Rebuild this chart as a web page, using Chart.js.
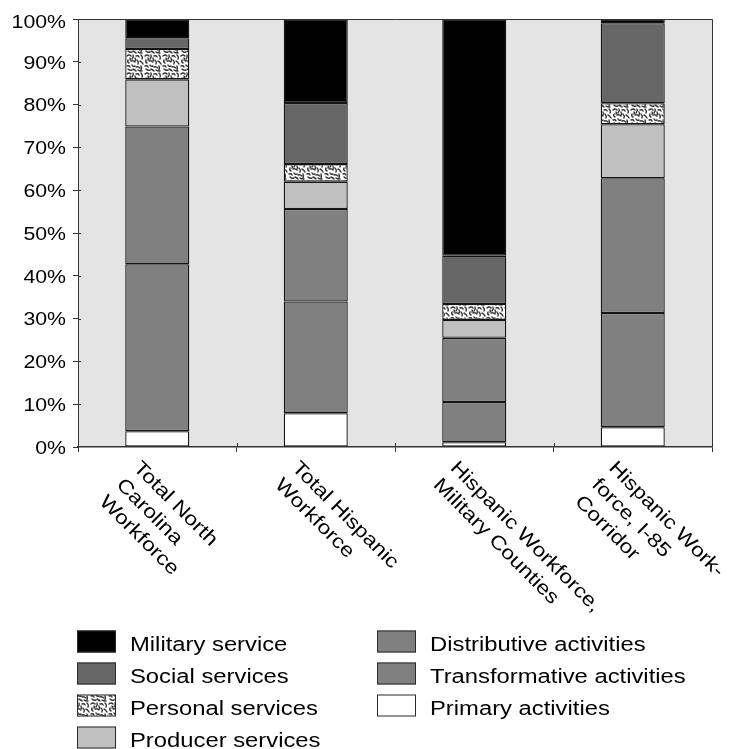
<!DOCTYPE html>
<html><head><meta charset="utf-8">
<script src="https://cdn.jsdelivr.net/npm/chart.js@4.4.1/dist/chart.umd.min.js"></script>
<style>html,body{margin:0;padding:0;background:#fff}#wrap{width:739px;height:749px;position:relative}</style>
</head><body><div id="wrap"><canvas id="c"></canvas></div>
<script>
// ---- data ----
const categoryLines = [
  ["Total North", "Carolina", "Workforce"],
  ["Total Hispanic", "Workforce"],
  ["Hispanic Workforce,", "Military Counties"],
  ["Hispanic Work-", "force, I-85", "Corridor"]
];
const categories = categoryLines.map(l => l.join(" "));
const primaryActivities        = [3.7, 7.9, 1.1, 4.6];
const transformativeActivities = [39.0, 26.1, 9.4, 26.7];
const distributiveActivities   = [32.2, 21.6, 15.0, 31.5];
const producerServices         = [11.0, 6.4, 4.2, 12.6];
const personalServices         = [7.1, 4.1, 3.7, 4.9];
const socialServices           = [2.5, 14.3, 11.3, 18.7];
const militaryService          = [4.5, 19.6, 55.3, 1.0];
const yTickValues = [0, 10, 20, 30, 40, 50, 60, 70, 80, 90, 100];
const yTickLabels = yTickValues.map(v => v + "%");
const legendCol1 = ["Military service", "Social services", "Personal services", "Producer services"];
const legendCol2 = ["Distributive activities", "Transformative activities", "Primary activities"];

// ---- styles ----
const canvas = document.getElementById('c');
const mainCtx = canvas.getContext('2d');
function makePattern() {
  const t = document.createElement('canvas'); t.width = 18; t.height = 18;
  const g = t.getContext('2d');
  g.fillStyle = '#fff'; g.fillRect(0, 0, 18, 18);
  g.strokeStyle = '#383838'; g.lineWidth = 1.45; g.lineCap = 'round';
  const segs = [[1,2,3,0,5,2],[7,1,8,3,6,5],[10,2,12,1,13,3],[15,1,17,3,16,5],
    [2,6,1,8,3,9],[5,7,7,6,9,8],[11,6,13,8,12,10],[14,7,16,8,17,10],
    [1,12,3,11,4,13],[6,11,7,13,9,12],[10,13,12,12,14,14],[15,12,16,14,15,16],
    [2,15,4,17,6,16],[7,15,9,16,10,17],[12,16,13,17,16,17],[4,4,5,5,4,6],[9,4,10,6,9,7]];
  segs.forEach(s => { g.beginPath(); g.moveTo(s[0], s[1]); g.quadraticCurveTo(s[2], s[3], s[4], s[5]); g.stroke(); });
  return mainCtx.createPattern(t, 'repeat');
}
const personalPattern = makePattern();
const FONT = '19.5px "Liberation Sans", Arial, sans-serif';
const LEGEND_FONT = '20px "Liberation Sans", Arial, sans-serif';
const SX = 1.17;

function ds(label, data, color) {
  return { label, data, backgroundColor: color, borderColor: '#151515', borderWidth: 1.3, borderSkipped: false,
           barPercentage: 0.404, categoryPercentage: 1.0 };
}
const datasets = [
  ds("Primary activities", primaryActivities, '#ffffff'),
  ds("Transformative activities", transformativeActivities, '#808080'),
  ds("Distributive activities", distributiveActivities, '#808080'),
  ds("Producer services", producerServices, '#c0c0c0'),
  ds("Personal services", personalServices, personalPattern),
  ds("Social services", socialServices, '#666666'),
  ds("Military service", militaryService, '#000000')
];

function wideText(ctx, str, x, y, align, rot, sx, font) {
  ctx.save();
  ctx.translate(x, y);
  if (rot) ctx.rotate(rot);
  ctx.scale(sx, 1);
  ctx.font = font;
  ctx.textAlign = align;
  ctx.textBaseline = 'alphabetic';
  ctx.fillStyle = '#000';
  ctx.fillText(str, 0, 0);
  ctx.restore();
}

const decor = {
  id: 'decor',
  beforeDraw(chart) {
    const { ctx, chartArea: a } = chart;
    ctx.save();
    ctx.fillStyle = '#e4e4e4';
    ctx.fillRect(a.left, a.top, a.right - a.left, a.bottom - a.top);
    ctx.restore();
  },
  afterDraw(chart) {
    const { ctx, chartArea: a } = chart;
    const xs = chart.scales.x, ys = chart.scales.y;
    ctx.save();
    // frame top & right
    ctx.strokeStyle = '#333'; ctx.lineWidth = 1;
    ctx.beginPath();
    ctx.moveTo(a.left, a.top + 0.5); ctx.lineTo(a.right + 0.5, a.top + 0.5); ctx.lineTo(a.right + 0.5, a.bottom);
    ctx.stroke();
    // inner parts of tick marks
    ctx.beginPath();
    ys.ticks.forEach(t => {
      const y = Math.round(ys.getPixelForValue(t.value)) + 0.5;
      if (t.value > 0 && t.value < 100) { ctx.moveTo(a.left, y); ctx.lineTo(a.left + 3, y); }
    });
    for (let i = 1; i < categories.length; i++) {
      const x = Math.round((xs.getPixelForValue(i - 1) + xs.getPixelForValue(i)) / 2) + 0.5;
      ctx.moveTo(x, a.bottom); ctx.lineTo(x, a.bottom - 4);
    }
    ctx.stroke();
    ctx.restore();

    // y tick labels
    yTickValues.forEach((v, i) => {
      let y = ys.getPixelForValue(v);
      y = Math.max(y, 21.5);
      wideText(ctx, yTickLabels[i], 66, y + 6.8, 'right', 0, 1.12, '19px "Liberation Sans", Arial, sans-serif');
    });

    // x labels rotated 45deg clockwise
    const capH = 0.716 * 19.5, k = Math.SQRT1_2, LH = 24;
    categoryLines.forEach((lines, i) => {
      const cx = xs.getPixelForValue(i);
      const ox = cx - 15 - k * capH, oy = 459 + k * capH;
      lines.forEach((ln, j) => {
        wideText(ctx, ln, ox - j * LH * k, oy + j * LH * k, 'left', Math.PI / 4, SX, FONT);
      });
    });

    // legend (column-major)
    const byLabel = {};
    chart.data.datasets.forEach(d => byLabel[d.label] = d);
    const cols = [[legendCol1, 77, 130], [legendCol2, 377, 430]];
    cols.forEach(([names, sx0, tx]) => {
      names.forEach((name, r) => {
        const top = 630.5 + r * 32;
        const d = byLabel[name];
        ctx.save();
        ctx.fillStyle = d.backgroundColor;
        ctx.fillRect(sx0, top, 39, 22);
        ctx.strokeStyle = '#2a2a2a'; ctx.lineWidth = 1;
        ctx.strokeRect(sx0 + 0.5, top + 0.5, 38, 21);
        ctx.restore();
        wideText(ctx, name, tx, top + 20, 'left', 0, 1.19, LEGEND_FONT);
      });
    });
  }
};

new Chart(canvas, {
  type: 'bar',
  data: { labels: categories, datasets },
  options: {
    responsive: true, maintainAspectRatio: false, animation: false,
    layout: { padding: { top: 19, right: 27, bottom: 0, left: 0 } },
    plugins: { legend: { display: false }, tooltip: { enabled: false } },
    scales: {
      x: {
        stacked: true,
        ticks: { display: false },
        grid: { drawOnChartArea: false, drawTicks: true, tickLength: 5, color: '#333', offset: true },
        border: { display: true, color: '#333', width: 1.5 },
        afterFit: s => { s.height = 302; }
      },
      y: {
        stacked: true, min: 0, max: 100,
        ticks: { display: false, stepSize: 10 },
        grid: { drawOnChartArea: false, drawTicks: true, tickLength: 5, color: '#333' },
        border: { display: true, color: '#333', width: 1 },
        afterFit: s => { s.width = 78; }
      }
    }
  },
  plugins: [decor]
});
</script>
</body></html>
